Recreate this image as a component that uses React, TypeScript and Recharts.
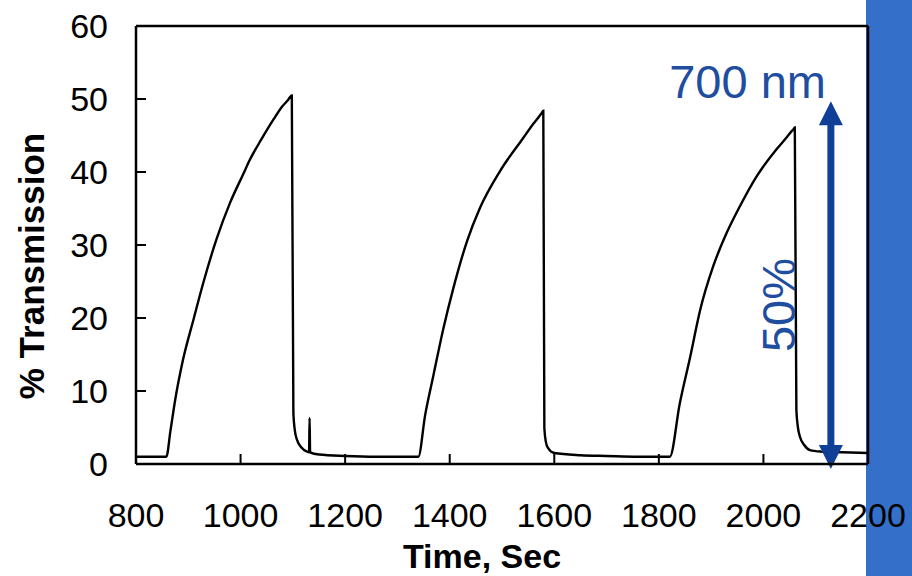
import React from "react";
import { LineChart, Line, XAxis, YAxis, ReferenceLine } from "recharts";

// time (s) and % transmission, three switching cycles
const times = [
  800, 858, 866, 875, 890, 910, 929, 954, 980, 1005, 1018, 1040, 1063, 1080, 1090, 1098,
  1101, 1104, 1108, 1116, 1127, 1131, 1132, 1133, 1150, 1200, 1260, 1340,
  1353, 1369, 1388, 1407, 1433, 1458, 1496, 1541, 1560, 1572, 1576, 1579,
  1581, 1584, 1588, 1600, 1650, 1700, 1760, 1821,
  1840, 1860, 1879, 1904, 1930, 1955, 1987, 2025, 2045, 2054, 2058, 2060,
  2063, 2066, 2070, 2078, 2089, 2110, 2150, 2200,
];
const transmission = [
  1.0, 1.0, 4.6, 8.8, 14.3, 19.8, 24.9, 30.8, 35.8, 39.7, 41.7, 44.5, 47.2, 49.0, 49.8, 50.5,
  7.0, 4.5, 3.3, 2.3, 1.7, 1.6, 6.3, 1.6, 1.3, 1.1, 1.0, 1.0,
  6.7, 12.2, 18.6, 24.1, 30.5, 35.1, 40.1, 44.7, 46.6, 47.7, 48.1, 48.4,
  4.9, 3.0, 2.2, 1.5, 1.2, 1.1, 1.0, 1.0,
  8.3, 14.7, 21.1, 27.1, 31.7, 35.3, 39.4, 43.1, 44.8, 45.6, 45.9, 46.1,
  7.4, 5.0, 3.7, 2.6, 1.9, 1.7, 1.6, 1.5,
];

const xTicks = [800, 1000, 1200, 1400, 1600, 1800, 2000, 2200];
const yTicks = [0, 10, 20, 30, 40, 50, 60];

// double arrow marking the 50% swing
const arrowAt = 2129;
const arrowFrom = -0.7;
const arrowTo = 49.7;

const data = times.map((t, i) => ({ t, v: transmission[i] }));

const FONT = "'Liberation Sans', Arial, sans-serif";
const BLUE_TEXT = "#1F4E9F";
const BLUE_ARROW = "#103F98";

const DoubleArrow = (props: any) => {
  const { x1, y1, y2 } = props;
  const top = Math.min(y1, y2);
  const bottom = Math.max(y1, y2);
  const head = 24;
  const half = 12;
  return (
    <g>
      <line x1={x1} y1={top + head - 1} x2={x1} y2={bottom - head + 1} stroke={BLUE_ARROW} strokeWidth={7} />
      <polygon points={`${x1},${top} ${x1 - half},${top + head} ${x1 + half},${top + head}`} fill={BLUE_ARROW} />
      <polygon points={`${x1},${bottom} ${x1 - half},${bottom - head} ${x1 + half},${bottom - head}`} fill={BLUE_ARROW} />
    </g>
  );
};

export default function App() {
  return (
    <div style={{ position: "absolute", left: 0, top: 0, width: 912, height: 576, background: "#fff", overflow: "hidden" }}>
      <div style={{ position: "absolute", left: 866, top: 0, width: 46, height: 576, background: "#3470CA" }} />
      <div style={{ position: "absolute", left: 0, top: 0 }}>
        <LineChart width={912} height={576} data={data} margin={{ top: 26, right: 44, bottom: 0, left: 0 }}>
          <XAxis
            dataKey="t"
            type="number"
            domain={[800, 2200]}
            ticks={xTicks}
            interval={0}
            height={112}
            tickSize={-10}
            tickMargin={49}
            axisLine={{ stroke: "#000", strokeWidth: 2.5 }}
            tickLine={{ stroke: "#000", strokeWidth: 2 }}
            tick={{ fill: "#000", fontSize: 34, fontFamily: FONT }}
          />
          <YAxis
            type="number"
            domain={[0, 60]}
            ticks={yTicks}
            interval={0}
            width={136}
            tickSize={-10}
            tickMargin={38}
            axisLine={{ stroke: "#000", strokeWidth: 2.5 }}
            tickLine={{ stroke: "#000", strokeWidth: 2 }}
            tick={{ fill: "#000", fontSize: 34, fontFamily: FONT }}
          />
          <ReferenceLine y={60} stroke="#000" strokeWidth={2.5} />
          <ReferenceLine x={2200} stroke="#000" strokeWidth={2.5} />
          <Line dataKey="v" type="monotone" stroke="#000" strokeWidth={2.4} dot={false} isAnimationActive={false} />
          <ReferenceLine
            segment={[{ x: arrowAt, y: arrowFrom }, { x: arrowAt, y: arrowTo }]}
            ifOverflow="visible"
            shape={DoubleArrow}
          />
        </LineChart>
      </div>
      <svg width={912} height={576} style={{ position: "absolute", left: 0, top: 0, pointerEvents: "none" }}>
        <text x={44} y={266} transform="rotate(-90 44 266)" textAnchor="middle" fontFamily={FONT} fontWeight="bold" fontSize={35} fill="#000">
          % Transmission
        </text>
        <text x={482} y={568} textAnchor="middle" fontFamily={FONT} fontWeight="bold" fontSize={34} fill="#000">
          Time, Sec
        </text>
        <text x={826} y={98} textAnchor="end" fontFamily={FONT} fontSize={47} fill={BLUE_TEXT}>
          700 nm
        </text>
        <text x={795} y={305} transform="rotate(-90 795 305)" textAnchor="middle" fontFamily={FONT} fontSize={47} fill={BLUE_TEXT}>
          50%
        </text>
      </svg>
    </div>
  );
}
